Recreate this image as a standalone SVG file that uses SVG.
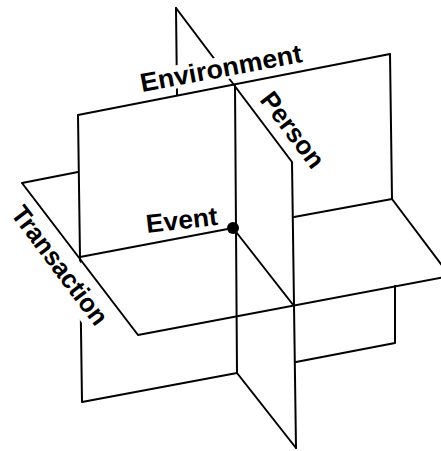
<svg xmlns="http://www.w3.org/2000/svg" width="441" height="451" viewBox="0 0 441 451">
  <style>
    .ln { fill: none; stroke: #000; stroke-width: 2; stroke-linecap: round; stroke-linejoin: round; }
    .lbl { font-family: "Liberation Sans", Arial, Helvetica, sans-serif; font-weight: bold; font-size: 26px; fill: #000; }
    .mask { fill: #fff; stroke: none; }
  </style>
  <rect width="441" height="451" fill="#fff"/>
  <g id="person-plane">
    <path class="ln" d="M176,8 L292,162 L296,448"/>
    <path class="ln" d="M176,8 L177,95"/>
    <path class="ln" d="M237,373 L296,448"/>
  </g>
  <g id="environment-plane">
    <path class="ln" d="M80,257 L78,115 L390,54 L392,199"/>
    <path class="ln" d="M80,257 L82,402 L237,373"/>
    <path class="ln" d="M395,286 L395,343 L296,362"/>
    <path class="ln" d="M235,85 L237,373"/>
  </g>
  <g id="transaction-plane">
    <path class="ln" d="M78,172 L22,183 L138,335 L450,276 L392,199"/>
    <path class="ln" d="M80,257 L233,228 L294,306"/>
    <path class="ln" d="M294,217 L392,199"/>
  </g>
  <g id="event">
    <circle cx="233" cy="228" r="6" fill="#000"/>
    <text class="lbl" transform="translate(147,233) rotate(-6.5)" textLength="72" lengthAdjust="spacingAndGlyphs">Event</text>
  </g>
  <g id="label-environment" transform="translate(142,92) rotate(-10.6)">
    <rect class="mask" x="-2" y="-20" width="168" height="23"/>
    <text class="lbl" textLength="164" lengthAdjust="spacingAndGlyphs">Environment</text>
  </g>
  <g id="label-person" transform="translate(259,100) rotate(53)">
    <text class="lbl">Person</text>
  </g>
  <g id="label-transaction" transform="translate(10,214) rotate(53)">
    <rect class="mask" x="-2" y="-27" width="146" height="35"/>
    <text class="lbl" textLength="142" lengthAdjust="spacingAndGlyphs">Transaction</text>
  </g>
</svg>
